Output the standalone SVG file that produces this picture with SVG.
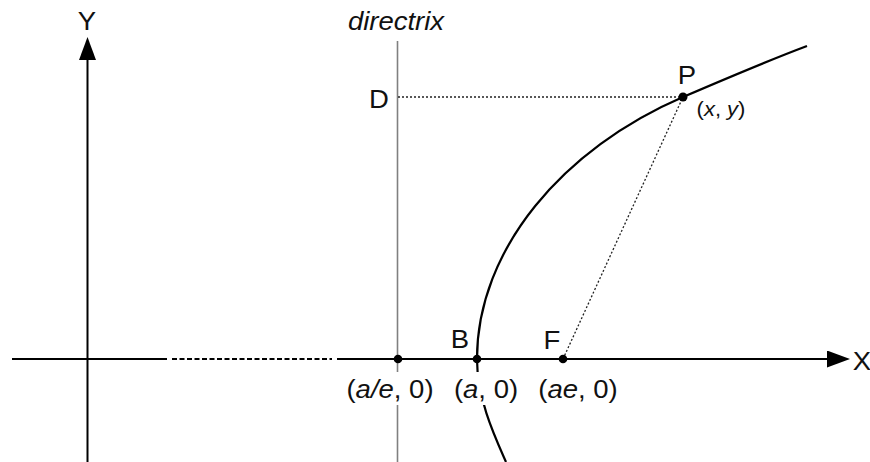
<svg xmlns="http://www.w3.org/2000/svg" width="870" height="462" viewBox="0 0 870 462">
<style>
.t{font-family:"Liberation Sans",Arial,sans-serif;font-size:25px;fill:#111;text-anchor:middle}
.s{font-size:20px}
.i{font-style:italic}
.ax{stroke:#000;stroke-width:2;fill:none}
.dash{stroke:#000;stroke-width:2;stroke-dasharray:5 2.5;fill:none}
.dot{stroke:#222;stroke-width:1.3;stroke-dasharray:2 2;fill:none}
.dir{stroke:#808080;stroke-width:1.6}
.curve{stroke:#000;stroke-width:2.2;fill:none}
.pt{fill:#000}
.bg{fill:#fff}
</style>
<defs>
<marker id="ah" markerUnits="userSpaceOnUse" markerWidth="24" markerHeight="18" refX="13" refY="8.5" orient="auto"><path d="M0,0 L23,8.5 L0,17 Z" fill="#000"/></marker>
</defs>
<rect width="870" height="462" fill="#fff"/>
<g id="connectors">
<line class="dir" x1="397.5" y1="41" x2="397.5" y2="462"/>
<line class="ax" x1="12" y1="359" x2="167" y2="359"/>
<line class="dash" x1="172" y1="359" x2="332" y2="359"/>
<line class="ax" x1="337" y1="359" x2="840" y2="359" marker-end="url(#ah)"/>
<line class="ax" x1="87.5" y1="462" x2="87.5" y2="47" marker-end="url(#ah)"/>
<line class="dot" x1="398" y1="97" x2="683" y2="97"/>
<line class="dot" x1="563" y1="359" x2="683" y2="97"/>
<path class="curve" d="M807,46 C767,61 719.8,81.2 683,97 C563.5,148.4 477,249 477,359 C477,399 495,437 506,462"/>
</g>
<g id="node-Y"><text class="t" transform="translate(87,30) scale(1.1,1)">Y</text></g>
<g id="node-X"><text class="t" transform="translate(862,370) scale(1.1,1)">X</text></g>
<g id="node-directrix"><text class="t i" transform="translate(396,30) scale(1.1,1)">directrix</text></g>
<g id="node-D"><text class="t" transform="translate(379,108) scale(1.1,1)">D</text></g>
<g id="node-P">
<circle class="pt" cx="683" cy="97" r="4.5"/>
<text class="t" transform="translate(687,84) scale(1.1,1)">P</text>
<text class="t s" transform="translate(721,116) scale(1.1,1)">(<tspan class="i">x</tspan>, <tspan class="i">y</tspan>)</text>
</g>
<g id="node-ae">
<circle class="pt" cx="398" cy="359" r="4.3"/>
<rect class="bg" x="343" y="372" width="94" height="33"/>
<text class="t" transform="translate(390,398) scale(1.1,1)">(<tspan class="i">a/e</tspan>, 0)</text>
</g>
<g id="node-B">
<circle class="pt" cx="477" cy="359" r="4.3"/>
<text class="t" transform="translate(460,348) scale(1.1,1)">B</text>
<rect class="bg" x="452" y="372" width="68" height="33"/>
<text class="t" transform="translate(486,398) scale(1.1,1)">(<tspan class="i">a</tspan>, 0)</text>
</g>
<g id="node-F">
<circle class="pt" cx="563" cy="359" r="4.3"/>
<text class="t" transform="translate(552,349) scale(1.1,1)">F</text>
<text class="t" transform="translate(578,398) scale(1.1,1)">(<tspan class="i">ae</tspan>, 0)</text>
</g>
</svg>
